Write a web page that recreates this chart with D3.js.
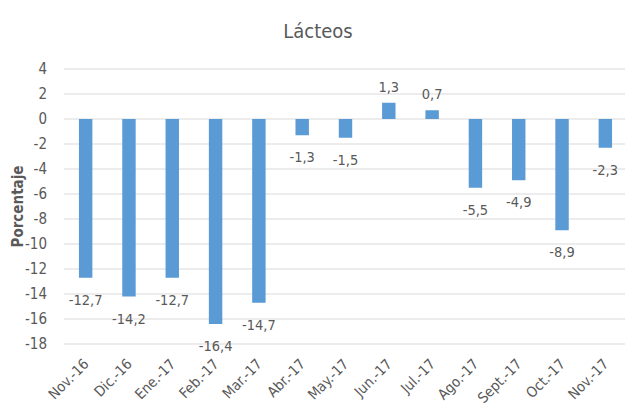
<!DOCTYPE html>
<html lang="es">
<head>
<meta charset="UTF-8">
<title>Lácteos</title>
<script src="https://d3js.org/d3.v7.min.js"></script>
<style>
  body { margin: 0; background: #fff; }
  text { font-family: "Liberation Sans Narrow", "DejaVu Sans Condensed", "Open Sans", sans-serif; fill: #595959; }
</style>
</head>
<body>
<svg width="625" height="411"></svg>
<script>
const months = ["Nov.-16", "Dic.-16", "Ene.-17", "Feb.-17", "Mar.-17", "Abr.-17", "May.-17",
                "Jun.-17", "Jul.-17", "Ago.-17", "Sept.-17", "Oct.-17", "Nov.-17"];
const values = [-12.7, -14.2, -12.7, -16.4, -14.7, -1.3, -1.5, 1.3, 0.7, -5.5, -4.9, -8.9, -2.3];
const yTicks = [4, 2, 0, -2, -4, -6, -8, -10, -12, -14, -16, -18];

const margin = { top: 69, left: 64 };
const width = 563, height = 275;

const svg = d3.select("svg");
const g = svg.append("g").attr("transform", `translate(${margin.left},${margin.top})`);

const x = d3.scaleBand().domain(months).range([0, width]).paddingInner(0.69).paddingOuter(0.345);
const y = d3.scaleLinear().domain([-18, 4]).range([height, 0]);

const fmt = v => String(v).replace(".", ",");

// grid
g.selectAll(".grid")
  .data(yTicks)
  .enter().append("line")
  .attr("x1", 0).attr("x2", width)
  .attr("y1", d => y(d)).attr("y2", d => y(d))
  .attr("stroke", "#d9d9d9").attr("stroke-width", 1);

// y axis labels
const yAxis = g.append("g")
  .call(d3.axisLeft(y).tickValues(yTicks).tickSize(0).tickPadding(17).tickFormat(d => d));
yAxis.select(".domain").remove();
yAxis.selectAll("text").attr("font-size", 15).style("fill", "#595959")
  .style("font-family", "'Liberation Sans Narrow', 'DejaVu Sans Condensed', sans-serif");

// bars
const bw = x.bandwidth();
g.selectAll(".bar")
  .data(values)
  .enter().append("rect")
  .attr("x", (d, i) => x(months[i]))
  .attr("y", d => y(Math.max(0, d)))
  .attr("width", bw)
  .attr("height", d => Math.abs(y(d) - y(0)))
  .attr("fill", "#5b9bd5");

// data labels
g.selectAll(".lbl")
  .data(values)
  .enter().append("text")
  .attr("x", (d, i) => x(months[i]) + bw / 2)
  .attr("y", d => d >= 0 ? y(d) - 11 : y(d) + 27)
  .attr("text-anchor", "middle")
  .attr("font-size", 14.5)
  .text(d => fmt(d));

// x labels
g.selectAll(".xl")
  .data(months)
  .enter().append("text")
  .attr("transform", d => `translate(${x(d) + bw / 2 + 4},${height + 21}) rotate(-45)`)
  .attr("text-anchor", "end")
  .attr("font-size", 14.5)
  .text(d => d);

// title
svg.append("text")
  .attr("x", 318).attr("y", 38)
  .attr("text-anchor", "middle")
  .attr("font-size", 20)
  .text("Lácteos");

// y title
svg.append("text")
  .attr("transform", `translate(23,${margin.top + y(-7)}) rotate(-90)`)
  .attr("text-anchor", "middle")
  .attr("font-size", 15)
  .attr("font-weight", "bold")
  .text("Porcentaje");
</script>
</body>
</html>
